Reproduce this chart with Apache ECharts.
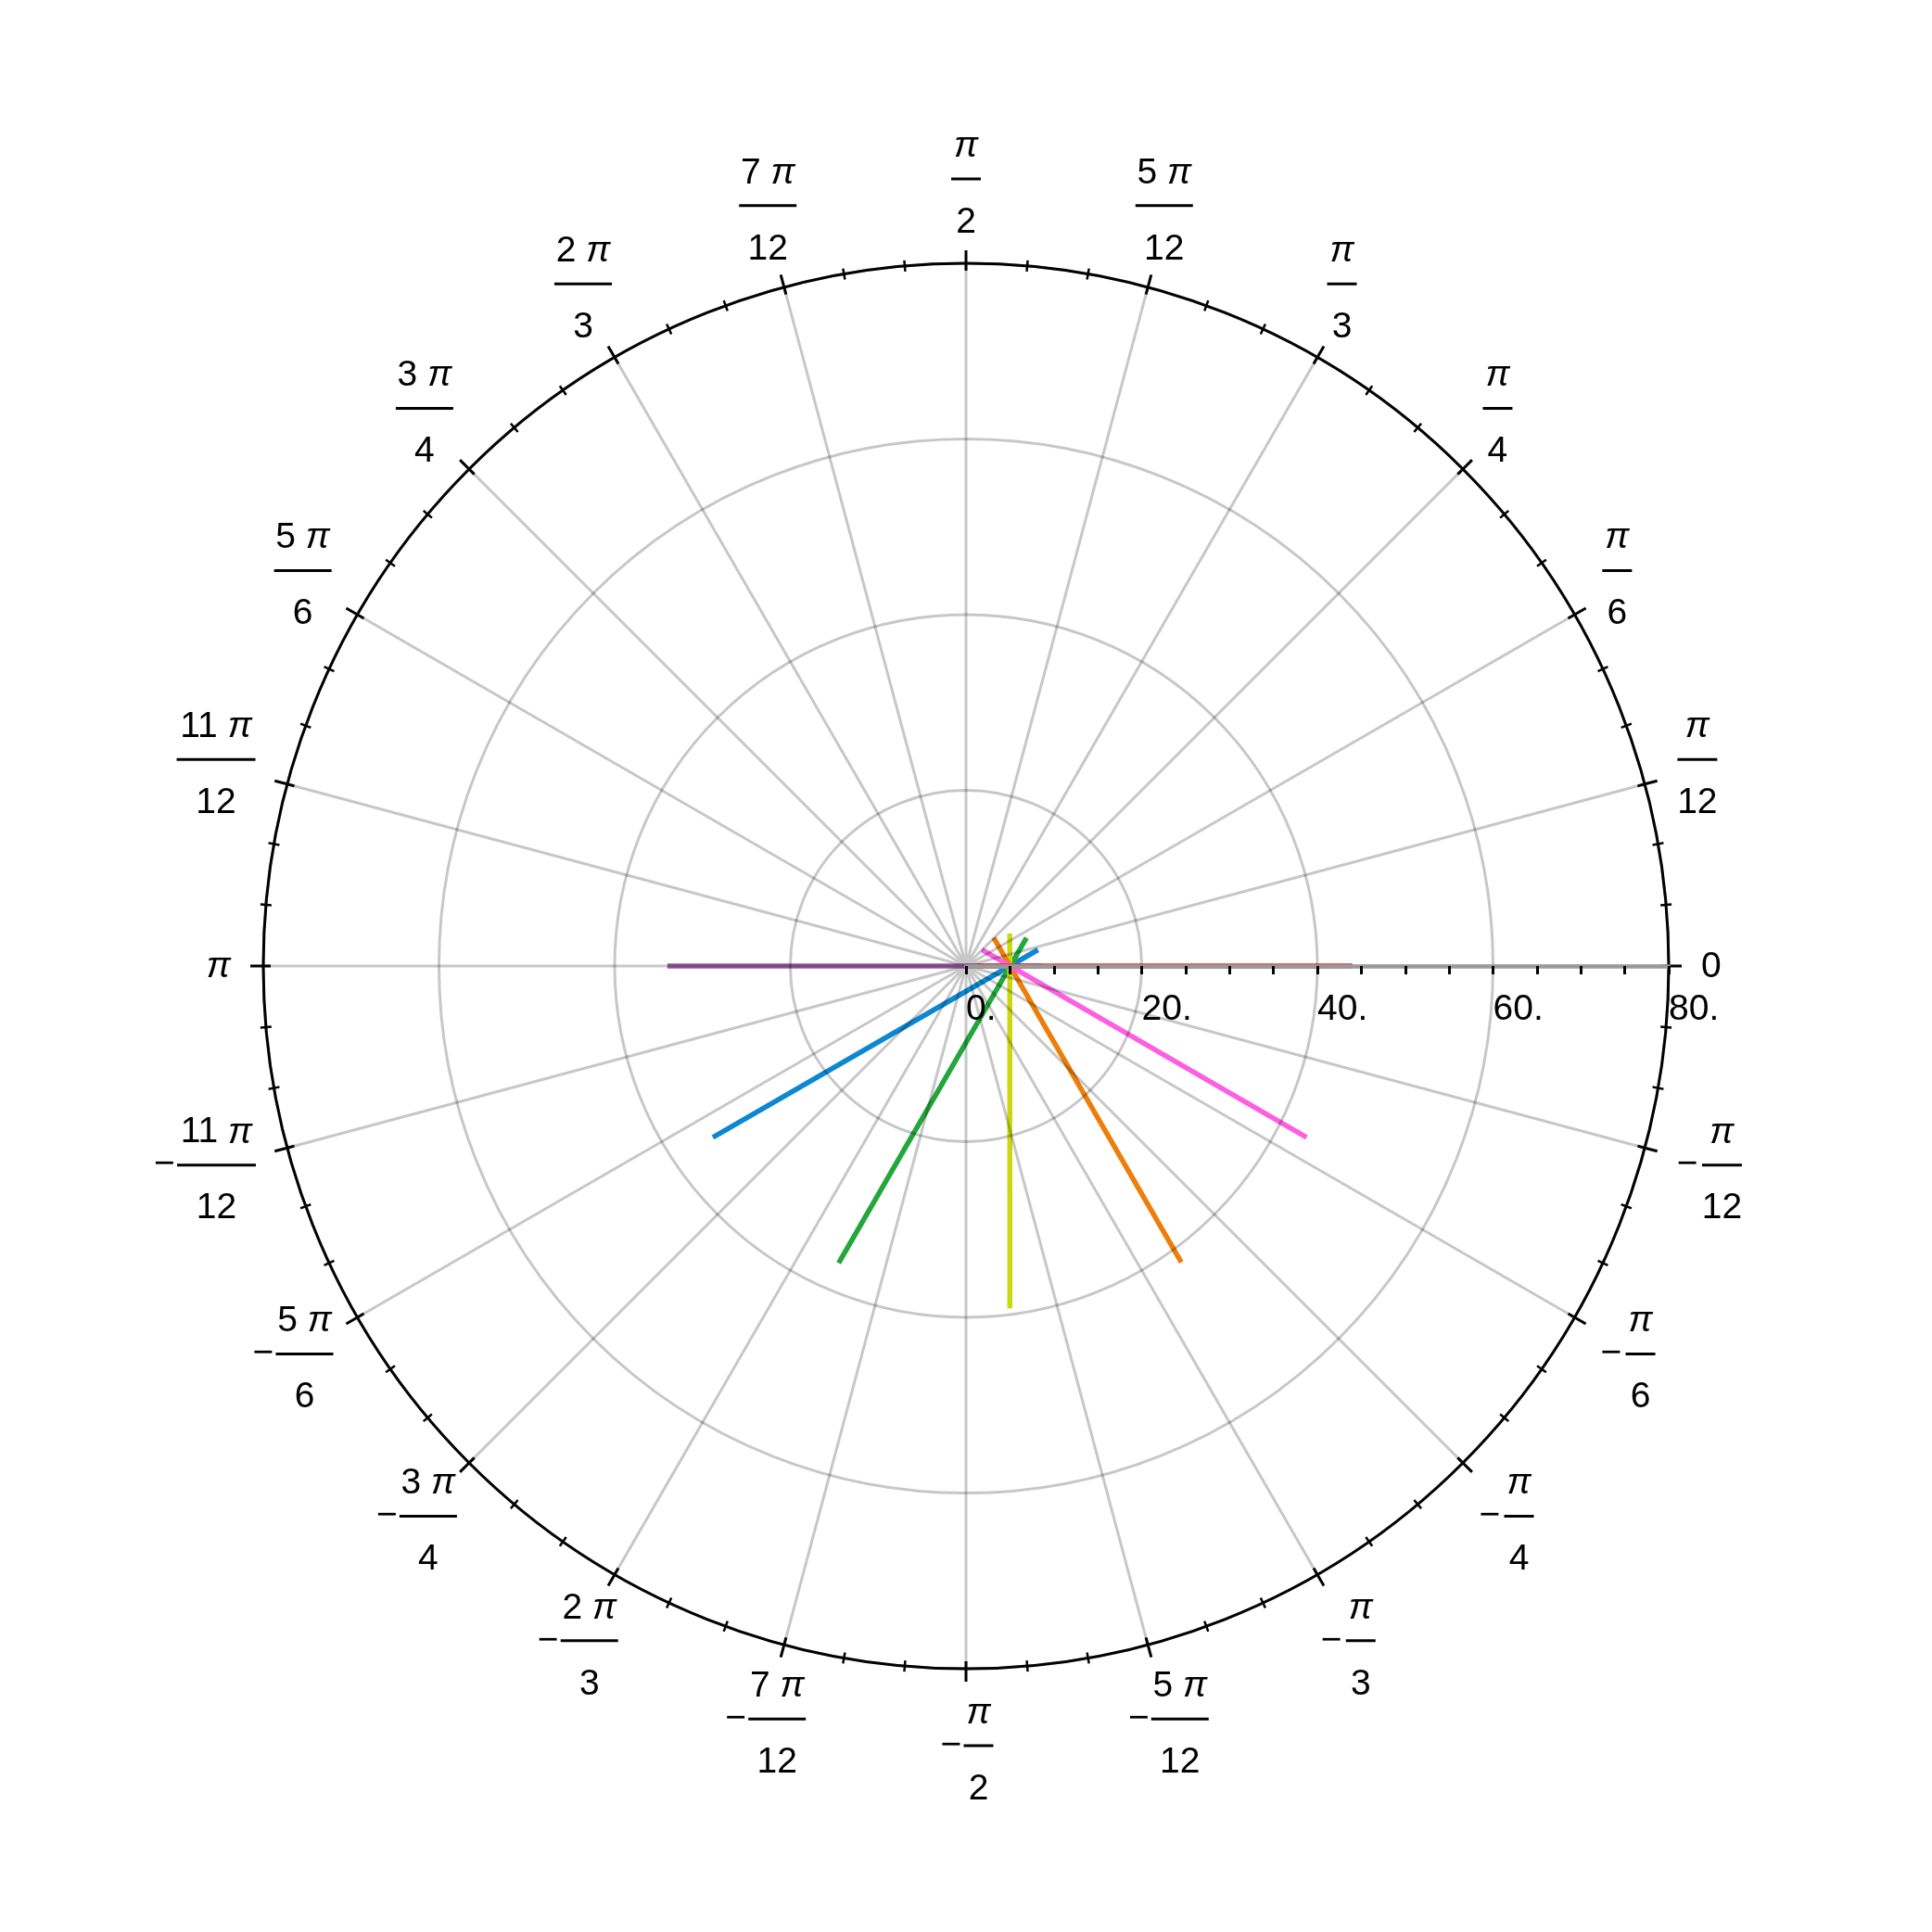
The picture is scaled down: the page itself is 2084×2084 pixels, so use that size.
<!DOCTYPE html>
<html>
<head>
<meta charset="utf-8">
<title>Polar lines</title>
<script src="https://cdn.jsdelivr.net/npm/echarts@6/dist/echarts.min.js"></script>
<style>
  html, body { margin: 0; padding: 0; background: #fff; }
  #main { width: 2084px; height: 2084px; }
</style>
</head>
<body>
<div id="main"></div>
<script>
// angle ticks every pi/12, counted counter-clockwise from the right
var angleLabels = ['0', 'π/12', 'π/6', 'π/4', 'π/3', '5π/12', 'π/2', '7π/12', '2π/3', '3π/4', '5π/6', '11π/12', 'π',
  '-11π/12', '-5π/6', '-3π/4', '-2π/3', '-7π/12', '-π/2', '-5π/12', '-π/3', '-π/4', '-π/6', '-π/12']
var radiusLabels = ['0.', '20.', '40.', '60.', '80.']

// each line: two end points as [radius, angle in degrees]
var purpleLine = [[34, 180], [8.7, 0]]
var blueLine = [[34.8, 214.1], [8.4, 12.7]]
var greenLine = [[36.8, 246.8], [7.6, 25.0]]
var yellowLine = [[39.3, 277.3], [6.2, 36.5]]
var orangeLine = [[41.7, 306.0], [4.5, 45.5]]
var pinkLine = [[43.4, 333.3], [2.6, 45.8]]
var redLine = [[44, 0], [1.3, 0]]

var lines = [purpleLine, blueLine, greenLine, yellowLine, orangeLine, pinkLine, redLine]
var colors = ['#9b5ba5', '#0b88d1', '#23a63b', '#c9d810', '#ec7e09', '#fc5fe1', '#e53935']

var FONT = 'Liberation Sans, Arial, sans-serif'
var R = 758
var GRID = 'rgba(0,0,0,0.22)'

function parseFrac (s) {
  var neg = s.charAt(0) === '-'
  if (neg) s = s.slice(1)
  var parts = s.split('/')
  var k = parts[0].replace('π', '')
  var den = parts[1]
  var bar = k === '' ? (den.length > 1 ? 'b2' : 'b1') : (k.length > 1 ? 'b4' : 'b3')
  return { neg: neg, k: k, den: den, bar: bar }
}
var barWidths = { b1: 32, b2: 43, b3: 62, b4: 85 }

// stacked fraction built with rich text
function angleLabel (s) {
  if (s === 'π') return '{p|π}'
  if (s.indexOf('/') < 0) return '{z|' + s + '}'
  var f = parseFrac(s)
  var lead = f.neg ? '{mz| }' : ''
  var num = (f.k ? '{c|' + f.k + ' }' : '') + '{p|π}'
  return lead + num + '\n' + (f.neg ? '{m|−}' : '') + '{' + f.bar + '| }\n' + lead + '{d|' + f.den + '}'
}

// the label box is pushed out from the circle along its own direction,
// the same way the original places them; padding turns that into an offset
function labelPadding (s, i) {
  var w, h, inkCy, hh, gap
  if (s.indexOf('/') >= 0) {
    var f = parseFrac(s)
    w = (f.neg ? 27 : 0) + barWidths[f.bar]
    h = 120; inkCy = 52; hh = 50; gap = 37
  } else {
    w = 22; h = 40; inkCy = 19; hh = 14; gap = 35
  }
  var a = i * 15 * Math.PI / 180
  var c = Math.cos(a)
  var sn = Math.sin(a)
  var left = (gap + w / 2) * c - w / 2
  var top = -(gap + hh) * sn - inkCy
  return [top, -(left + w), -(top + h), left]
}

function bar (w) {
  return { width: w, height: 3, backgroundColor: '#000', lineHeight: 44, align: 'center', fontSize: 10 }
}

var chart = echarts.init(document.getElementById('main'))

var hiddenRadius = function (idx) {
  return {
    polarIndex: idx,
    type: 'value',
    min: 0,
    max: 80,
    axisLine: { show: false },
    axisTick: { show: false },
    axisLabel: { show: false },
    splitLine: { show: false }
  }
}

var option = {
  backgroundColor: '#fff',
  animation: false,
  polar: [
    { center: [1042, 1042], radius: R },
    { center: [1042, 1042], radius: R },
    { center: [1042, 1042], radius: R }
  ],
  angleAxis: [
    {
      polarIndex: 0,
      type: 'value',
      min: 0,
      max: 360,
      interval: 15,
      startAngle: 0,
      clockwise: false,
      z: 5,
      axisLine: { lineStyle: { color: '#000', width: 3 } },
      axisTick: { length: 14, lineStyle: { color: '#000', width: 3 } },
      minorTick: { show: true, splitNumber: 3, length: 6, lineStyle: { color: '#000', width: 2.5 } },
      splitLine: { show: true, lineStyle: { color: GRID, width: 3 } },
      axisLabel: { show: false }
    },
    {
      polarIndex: 1,
      type: 'value',
      min: 0,
      max: 360,
      interval: 15,
      startAngle: 0,
      clockwise: false,
      z: 5,
      axisLine: { show: false },
      axisTick: { inside: true, length: 8, lineStyle: { color: '#000', width: 3 } },
      minorTick: { show: true, splitNumber: 3, length: 6, lineStyle: { color: '#000', width: 2.5 } },
      splitLine: { show: false },
      axisLabel: { show: false }
    },
    {
      polarIndex: 2,
      type: 'category',
      boundaryGap: false,
      startAngle: 0,
      clockwise: false,
      data: angleLabels.map(function (s, i) {
        return { value: s, textStyle: { padding: labelPadding(s, i) } }
      }),
      axisLine: { show: false },
      axisTick: { show: false },
      splitLine: { show: false },
      axisLabel: {
        interval: 0,
        margin: 0,
        color: '#000',
        fontSize: 39,
        fontFamily: FONT,
        formatter: angleLabel,
        rich: {
          z: { lineHeight: 40 },
          c: { align: 'center', lineHeight: 26 },
          p: { align: 'center', lineHeight: 26, fontStyle: 'italic' },
          d: { align: 'center', lineHeight: 50 },
          m: { width: 27, lineHeight: 44 },
          mz: { width: 27, lineHeight: 10 },
          b1: bar(barWidths.b1),
          b2: bar(barWidths.b2),
          b3: bar(barWidths.b3),
          b4: bar(barWidths.b4)
        }
      }
    }
  ],
  radiusAxis: [
    {
      polarIndex: 0,
      type: 'value',
      min: 0,
      max: 80,
      interval: 20,
      z: 6,
      axisLine: { lineStyle: { color: '#9a9a9a', width: 4.5 } },
      axisTick: { length: -9, lineStyle: { color: '#000', width: 3 } },
      minorTick: { show: true, splitNumber: 4, length: -9, lineStyle: { color: '#000', width: 3 } },
      splitLine: { show: true, lineStyle: { color: GRID, width: 3 } },
      axisLabel: {
        margin: -28,
        color: '#000',
        fontSize: 39,
        fontFamily: FONT,
        align: 'left',
        verticalAlign: 'top',
        formatter: function (v) { return radiusLabels[Math.round(v / 20)] }
      }
    },
    hiddenRadius(1),
    hiddenRadius(2)
  ],
  series: lines.map(function (d, i) {
    return {
      type: 'line',
      coordinateSystem: 'polar',
      polarIndex: 0,
      data: d,
      showSymbol: false,
      z: 2,
      lineStyle: { color: colors[i], width: 5.5 }
    }
  })
}

chart.setOption(option)
</script>
</body>
</html>
